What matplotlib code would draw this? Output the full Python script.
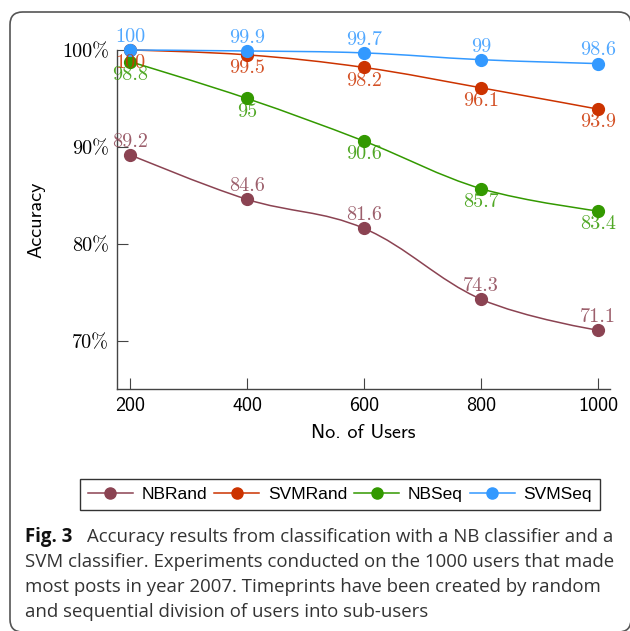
import numpy as np
import matplotlib
matplotlib.use('Agg')
import matplotlib.pyplot as plt
from matplotlib.path import Path
from matplotlib.patches import PathPatch, FancyBboxPatch
from matplotlib.lines import Line2D

# data
users = [200, 400, 600, 800, 1000]
nb_rand = [89.2, 84.6, 81.6, 74.3, 71.1]
svm_rand = [100, 99.5, 98.2, 96.1, 93.9]
nb_seq = [98.8, 95, 90.6, 85.7, 83.4]
svm_seq = [100, 99.9, 99.7, 99, 98.6]

series_names = ['NBRand', 'SVMRand', 'NBSeq', 'SVMSeq']
series_vals = [nb_rand, svm_rand, nb_seq, svm_seq]
colors = ['#8b4352', '#cc3300', '#339900', '#3399ff']
label_above = [True, False, False, True]

y_ticks = [70, 80, 90, 100]
x_ticks = [200, 400, 600, 800, 1000]

caption_bold = 'Fig. 3'
caption_lines = ['Accuracy results from classification with a NB classifier and a',
                 'SVM classifier. Experiments conducted on the 1000 users that made',
                 'most posts in year 2007. Timeprints have been created by random',
                 'and sequential division of users into sub-users']

W, H = 630, 631
fig = plt.figure(figsize=(W / 100, H / 100), dpi=100)


def px(x, y):
    return x / W, 1 - y / H


# rounded frame around the figure (right and bottom edges fall off the picture)
frame = FancyBboxPatch(px(10, 632), (631 - 10) / W, (632 - 12) / H,
                       boxstyle='round,pad=0,rounding_size=0.02',
                       transform=fig.transFigure, fill=False,
                       edgecolor='#555555', lw=1.2)
fig.patches.append(frame)

ax = fig.add_axes([117 / W, 1 - 389 / H, (610 - 117) / W, (389 - 50) / H])
ax.set_xlim(177.7, 1020)
ax.set_ylim(65.05, 100)
ax.spines['top'].set_visible(False)
ax.spines['right'].set_visible(False)
for s in ['left', 'bottom']:
    ax.spines[s].set_color('#444444')
    ax.spines[s].set_linewidth(1.0)


def smooth_path(xs, ys, t=0.55 / 3):
    pts = np.column_stack([xs, ys]).astype(float)
    verts = [pts[0]]
    codes = [Path.MOVETO]
    n = len(pts)
    for i in range(n - 1):
        p0 = pts[i - 1] if i > 0 else pts[i]
        p1, p2 = pts[i], pts[i + 1]
        p3 = pts[i + 2] if i + 2 < n else pts[i + 1]
        c1 = p1 + (p2 - p0) * t if i > 0 else p1
        c2 = p2 - (p3 - p1) * t if i + 2 < n else p2
        verts += [c1, c2, p2]
        codes += [Path.CURVE4] * 3
    return Path(verts, codes)


for name, vals, c, above in zip(series_names, series_vals, colors, label_above):
    ax.add_patch(PathPatch(smooth_path(users, vals), fill=False, edgecolor=c,
                           lw=1.1, clip_on=False, zorder=2))
    ax.plot(users, vals, ls='none', marker='o', ms=8.5, color=c, clip_on=False, zorder=3)
    for x, v in zip(users, vals):
        ax.annotate('%g' % v, (x, v), xytext=(0, 3 if above else -3),
                    textcoords='offset points', ha='center',
                    va='bottom' if above else 'top', color=c, alpha=0.85,
                    fontsize=14.5, family='cmr10', annotation_clip=False, zorder=4)

ax.set_xticks(x_ticks)
ax.set_xticklabels([str(v) for v in x_ticks], family='cmss10', fontsize=14.5)
ax.set_yticks(y_ticks)
ax.set_yticklabels(['%d%%' % v for v in y_ticks], family='cmr10', fontsize=14.5)
ax.tick_params(direction='in', length=8, width=0.8, color='#444444', pad=6)
ax.set_xlabel('No. of Users', family='cmss10', fontsize=14.5, labelpad=6)
ax.set_ylabel('Accuracy', family='cmss10', fontsize=14.5, labelpad=12)

handles = [Line2D([], [], color=c, lw=1.1, marker='o', ms=8) for c in colors]
leg = fig.legend(handles, series_names, ncol=4, loc='center',
                 bbox_to_anchor=(340 / W, 1 - 494.5 / H),
                 prop={'family': 'Liberation Sans', 'size': 12.5},
                 frameon=True, fancybox=False, edgecolor='black',
                 handlelength=2.6, handletextpad=0.5, columnspacing=0.4,
                 borderpad=0.45)
leg.get_frame().set_linewidth(1.0)

cap_size = 13.4
fig.text(*px(25, 542), caption_bold, fontsize=cap_size, family='Open Sans',
         weight='bold', va='baseline', color='#111111')
fig.text(*px(87, 542), caption_lines[0], fontsize=cap_size, family='Open Sans',
         va='baseline', color='#333333')
for i, line in enumerate(caption_lines[1:]):
    fig.text(*px(25, 567 + 25 * i), line, fontsize=cap_size, family='Open Sans',
             va='baseline', color='#333333')

fig.savefig('out.png', dpi=100)
